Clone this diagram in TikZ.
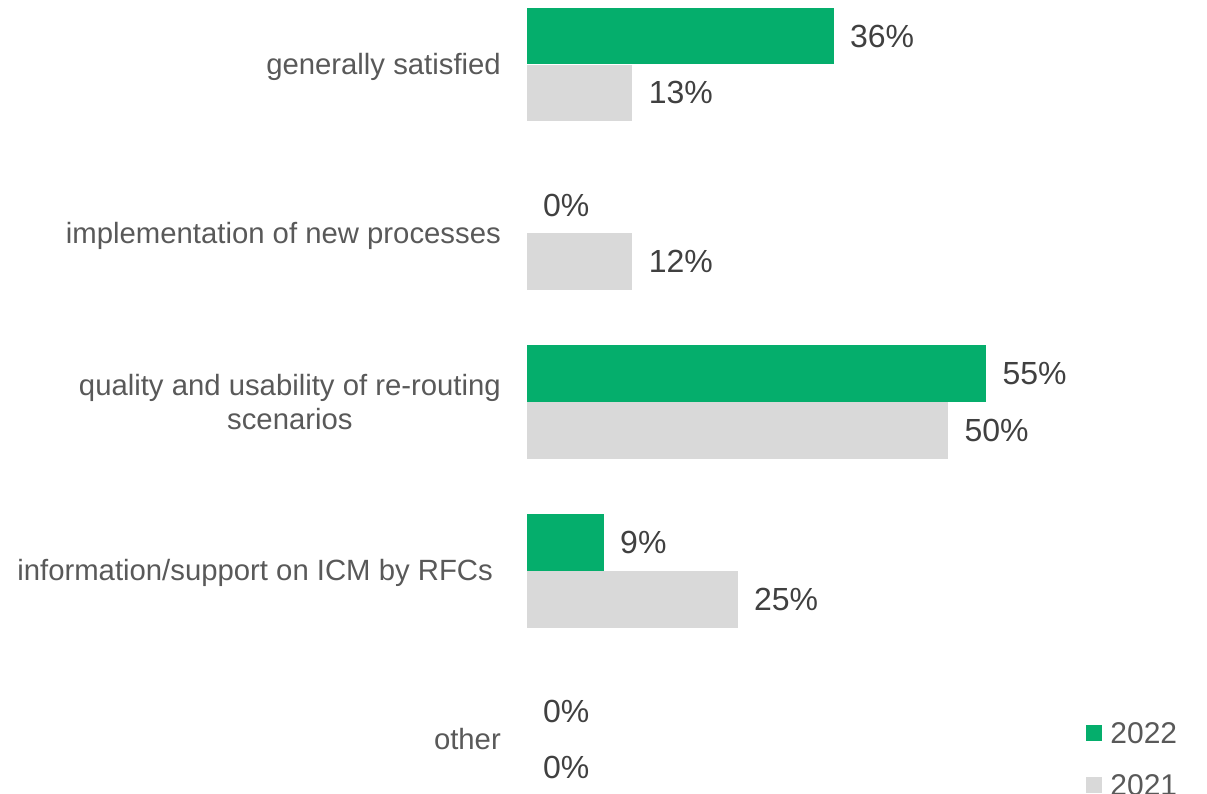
\documentclass[tikz,border=0pt]{standalone}
\usepackage{fontspec}
\setmainfont{Liberation Sans}
\usetikzlibrary{positioning}
\definecolor{green22}{RGB}{5,174,108}
\definecolor{grey21}{RGB}{217,217,217}
\definecolor{labelgrey}{RGB}{89,89,89}
\definecolor{valgrey}{RGB}{64,64,64}
\newcommand{\barunit}{8.42pt}

\begin{document}
\begin{tikzpicture}[
    x=1pt, y=-1pt,
    node distance=16pt,
    bar/.style={rectangle, inner sep=0pt, minimum height=56.5pt},
    bar22/.style={bar, fill=green22, anchor=south west},
    bar21/.style={bar, fill=grey21, anchor=north west},
    cat/.style={font=\fontsize{29.3}{34}\selectfont, text=labelgrey, inner sep=0pt, align=center},
    val/.style={font=\fontsize{32}{36}\selectfont, text=valgrey, inner sep=0pt},
    key/.style={rectangle, inner sep=0pt, minimum size=16pt},
    keytext/.style={font=\fontsize{30}{34}\selectfont, text=labelgrey, inner sep=0pt}
]
    \useasboundingbox (0,0) rectangle (1207,794);

    % generally satisfied
    \node[cat, anchor=base east] (gs) at (501,74.5) {generally satisfied};
    \node[bar22, minimum width=36.4*\barunit] (gs22) at (527,64.5) {};
    \node[bar21, minimum width=12.5*\barunit] (gs21) at (527,64.5) {};
    \node[val, right=of gs22] (gs22v) {36\%};
    \node[val, right=of gs21] (gs21v) {13\%};

    % implementation of new processes
    \node[cat, anchor=base east] (im) at (501,243.3) {implementation of new processes};
    \node[val, anchor=west] (im22v) at (543,205.3) {0\%};
    \node[bar21, minimum width=12.5*\barunit] (im21) at (527,233.3) {};
    \node[val, right=of im21] (im21v) {12\%};

    % quality and usability of re-routing scenarios
    \node[cat, anchor=east] (qu) at (501,402.1) {quality and usability of re-routing\\scenarios};
    \node[bar22, minimum width=54.5*\barunit] (qu22) at (527,402.1) {};
    \node[bar21, minimum width=50*\barunit] (qu21) at (527,402.1) {};
    \node[val, right=of qu22] (qu22v) {55\%};
    \node[val, right=of qu21] (qu21v) {50\%};

    % information/support on ICM by RFCs
    \node[cat, anchor=base east] (in) at (493,580.9) {information/support on ICM by RFCs};
    \node[bar22, minimum width=9.1*\barunit] (in22) at (527,570.9) {};
    \node[bar21, minimum width=25*\barunit] (in21) at (527,570.9) {};
    \node[val, right=of in22] (in22v) {9\%};
    \node[val, right=of in21] (in21v) {25\%};

    % other
    \node[cat, anchor=base east] (ot) at (501,749.7) {other};
    \node[val, anchor=west] (ot22v) at (543,711.7) {0\%};
    \node[val, anchor=west] (ot21v) at (543,767.7) {0\%};

    % legend
    \node[key, fill=green22] (k22) at (1094,733) {};
    \node[keytext, right=8pt of k22] (k22t) {2022};
    \node[key, fill=grey21] (k21) at (1094,785) {};
    \node[keytext, right=8pt of k21] (k21t) {2021};
\end{tikzpicture}
\end{document}
